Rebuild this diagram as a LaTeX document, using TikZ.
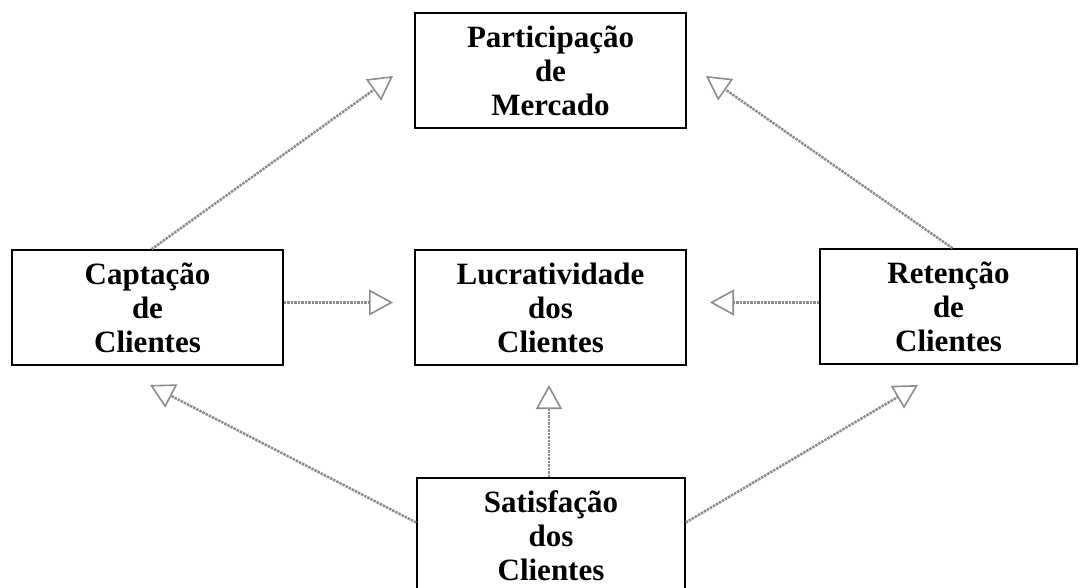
\documentclass[tikz,border=0pt]{standalone}
\usepackage{fontspec}
\setmainfont{Liberation Serif}
\usetikzlibrary{arrows.meta}

\tikzset{
  box/.style={draw=black, line width=1.6pt, fill=white, align=center,
    minimum width=271pt, minimum height=115pt, inner sep=0pt,
    font=\fontsize{31}{34}\selectfont\bfseries},
  flow/.style={draw=black!45, line width=2.5pt, densely dotted,
    -{Triangle[open, length=24pt, width=26pt, line width=1.6pt]}}
}

\begin{document}
\begin{tikzpicture}[x=1pt, y=-1pt]
  \useasboundingbox (0,0) rectangle (1080,588);
  \clip (0,0) rectangle (1080,588);

  % the five boxes
  \node[box] (part) at (550.5, 70.5)  {Participação\\de\\Mercado};
  \node[box] (capt) at (147.5, 307.5) {Captação\\de\\Clientes};
  \node[box] (lucr) at (550.5, 307.5) {Lucratividade\\dos\\Clientes};
  \node[box, minimum width=257pt] (ret) at (948.5, 306.5) {Retenção\\de\\Clientes};
  \node[box, minimum width=268pt] (sat) at (551, 535.5) {Satisfação\\dos\\Clientes};

  % free ends of the arrows
  \coordinate (tipPL) at (393, 76);
  \coordinate (tipPR) at (706, 76);
  \coordinate (tipCL) at (393, 302.5);
  \coordinate (tipRL) at (710, 302.5);
  \coordinate (tipSL) at (549, 385);
  \coordinate (tipSC) at (150, 385);
  \coordinate (tipSR) at (918, 385);

  % connectors
  \draw[flow] ([xshift=4pt]capt.north) -- (tipPL);
  \draw[flow] ([xshift=4pt]ret.north) -- (tipPR);
  \draw[flow] ([yshift=5pt]capt.east) -- (tipCL);
  \draw[flow] ([yshift=4pt]ret.west) -- (tipRL);
  \draw[flow] ([xshift=-2pt]sat.north) -- (tipSL);
  \draw[flow] ([yshift=13pt]sat.west) -- (tipSC);
  \draw[flow] ([yshift=13pt]sat.east) -- (tipSR);
\end{tikzpicture}
\end{document}
